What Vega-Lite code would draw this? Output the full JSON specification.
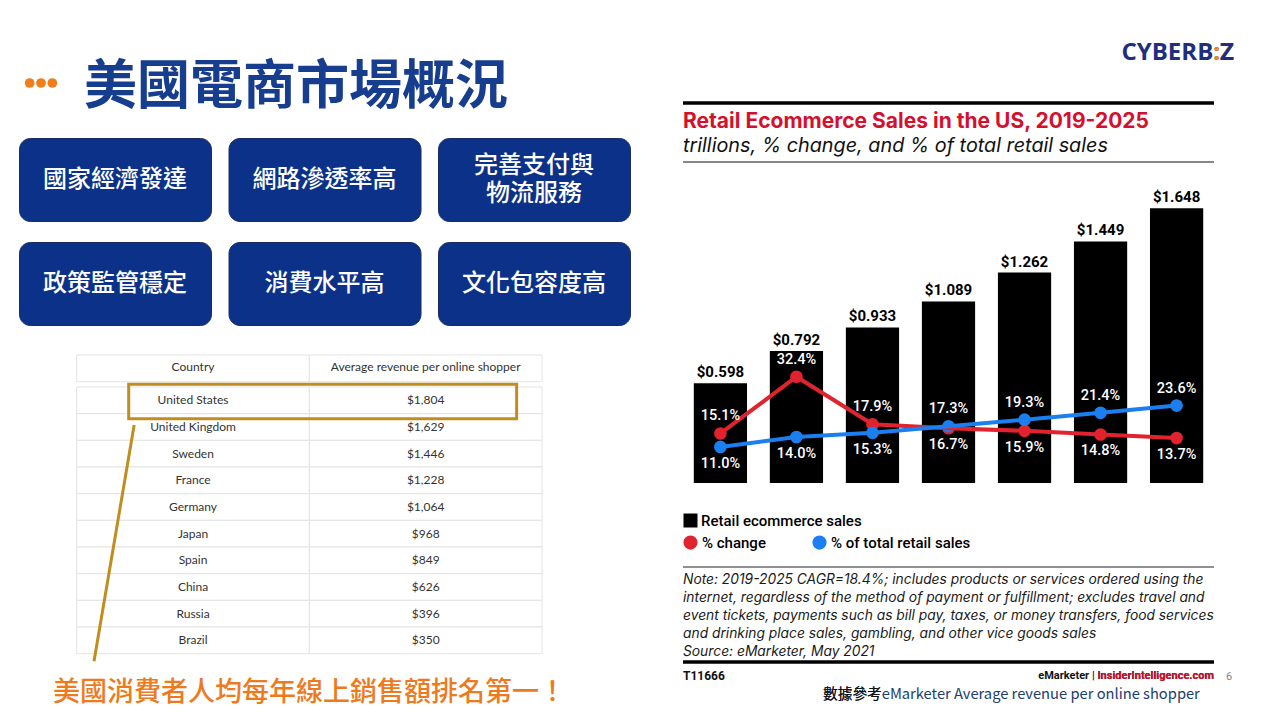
{
  "$schema": "https://vega.github.io/schema/vega-lite/v6.json",
  "background": "white",
  "padding": {"left": 18, "top": 0, "right": 0, "bottom": 0},
  "config": {"font": "Roboto", "view": {"stroke": null}, "axis": {"grid": false}},
  "spacing": 50,
  "hconcat": [
    {
      "spacing": 0,
      "vconcat": [
        {
          "width": 510, "height": 137,
          "layer": [
            {
              "data": {"values": [{"dot": "a"}, {"dot": "b"}, {"dot": "c"}]},
              "mark": {"type": "point", "filled": true, "size": 95, "color": "#f07f1b", "opacity": 1, "yOffset": 14.5},
              "encoding": {"x": {"field": "dot", "type": "nominal", "axis": null, "scale": {"type": "point", "range": [5, 39]}}}
            },
            {
              "data": {"values": [{"t": "美國電商市場概況"}]},
              "mark": {"type": "text", "font": "Noto Sans CJK TC", "fontSize": 53, "fontWeight": "bold", "color": "#163d8e", "dx": 22, "dy": 19, "baseline": "middle"},
              "encoding": {"text": {"field": "t"}}
            }
          ]
        },
        {
          "bounds": "flush", "columns": 3, "spacing": {"row": 21, "column": 17.5},
          "concat": [
            {"width": 192, "height": 83, "view": {"fill": "#0b3288", "stroke": "#1b2c63", "strokeWidth": 1, "cornerRadius": 11},
             "data": {"values": [{"label": "國家經濟發達"}]},
             "mark": {"type": "text", "font": "Noto Sans CJK TC", "fontSize": 24, "fontWeight": 500, "color": "#ffffff", "lineHeight": 28, "baseline": "middle"},
             "encoding": {"text": {"field": "label"}}},
            {"width": 192, "height": 83, "view": {"fill": "#0b3288", "stroke": "#1b2c63", "strokeWidth": 1, "cornerRadius": 11},
             "data": {"values": [{"label": "網路滲透率高"}]},
             "mark": {"type": "text", "font": "Noto Sans CJK TC", "fontSize": 24, "fontWeight": 500, "color": "#ffffff", "lineHeight": 28, "baseline": "middle"},
             "encoding": {"text": {"field": "label"}}},
            {"width": 192, "height": 83, "view": {"fill": "#0b3288", "stroke": "#1b2c63", "strokeWidth": 1, "cornerRadius": 11},
             "data": {"values": [{"label": ["完善支付與", "物流服務"]}]},
             "mark": {"type": "text", "font": "Noto Sans CJK TC", "fontSize": 24, "fontWeight": 500, "color": "#ffffff", "lineHeight": 28, "baseline": "middle", "dy": -14},
             "encoding": {"text": {"field": "label"}}},
            {"width": 192, "height": 83, "view": {"fill": "#0b3288", "stroke": "#1b2c63", "strokeWidth": 1, "cornerRadius": 11},
             "data": {"values": [{"label": "政策監管穩定"}]},
             "mark": {"type": "text", "font": "Noto Sans CJK TC", "fontSize": 24, "fontWeight": 500, "color": "#ffffff", "lineHeight": 28, "baseline": "middle"},
             "encoding": {"text": {"field": "label"}}},
            {"width": 192, "height": 83, "view": {"fill": "#0b3288", "stroke": "#1b2c63", "strokeWidth": 1, "cornerRadius": 11},
             "data": {"values": [{"label": "消費水平高"}]},
             "mark": {"type": "text", "font": "Noto Sans CJK TC", "fontSize": 24, "fontWeight": 500, "color": "#ffffff", "lineHeight": 28, "baseline": "middle"},
             "encoding": {"text": {"field": "label"}}},
            {"width": 192, "height": 83, "view": {"fill": "#0b3288", "stroke": "#1b2c63", "strokeWidth": 1, "cornerRadius": 11},
             "data": {"values": [{"label": "文化包容度高"}]},
             "mark": {"type": "text", "font": "Noto Sans CJK TC", "fontSize": 24, "fontWeight": 500, "color": "#ffffff", "lineHeight": 28, "baseline": "middle"},
             "encoding": {"text": {"field": "label"}}}
          ]
        },
        {
          "width": 600, "height": 337,
          "data": {"values": [
            {"Country": "United States", "revenue": 1804},
            {"Country": "United Kingdom", "revenue": 1629},
            {"Country": "Sweden", "revenue": 1446},
            {"Country": "France", "revenue": 1228},
            {"Country": "Germany", "revenue": 1064},
            {"Country": "Japan", "revenue": 968},
            {"Country": "Spain", "revenue": 849},
            {"Country": "China", "revenue": 626},
            {"Country": "Russia", "revenue": 396},
            {"Country": "Brazil", "revenue": 350}
          ]},
          "encoding": {
            "y": {"field": "Country", "type": "nominal", "axis": null,
                  "scale": {"domain": ["Country", "United States", "United Kingdom", "Sweden", "France", "Germany", "Japan", "Spain", "China", "Russia", "Brazil"],
                            "paddingInner": 0, "paddingOuter": 0.8188, "align": 0.786}}
          },
          "layer": [
            {"mark": {"type": "rect", "fill": "#ffffff", "stroke": "#e3e3e3", "strokeWidth": 1},
             "encoding": {"x": {"datum": "Country", "type": "nominal", "axis": null,
                                "scale": {"domain": ["Country", "Average revenue per online shopper"], "paddingInner": 0, "paddingOuter": 0.2895, "align": 0.4284}}}},
            {"mark": {"type": "rect", "fill": "#ffffff", "stroke": "#e3e3e3", "strokeWidth": 1},
             "encoding": {"x": {"datum": "Average revenue per online shopper", "type": "nominal"}}},
            {"data": {"values": [{"col": "Country"}, {"col": "Average revenue per online shopper"}]},
             "mark": {"type": "rect", "fill": "#ffffff", "stroke": "#e3e3e3", "strokeWidth": 1, "yOffset": -5.3},
             "encoding": {"x": {"field": "col", "type": "nominal"}, "y": {"datum": "Country", "type": "nominal"}}},
            {"data": {"values": [{"col": "Country"}, {"col": "Average revenue per online shopper"}]},
             "mark": {"type": "text", "font": "Lato", "fontSize": 12, "color": "#333333", "dy": -6.5, "baseline": "middle"},
             "encoding": {"x": {"field": "col", "type": "nominal"}, "y": {"datum": "Country", "type": "nominal"}, "text": {"field": "col"}}},
            {"mark": {"type": "text", "font": "Lato", "fontSize": 12, "color": "#333333", "baseline": "middle"},
             "encoding": {"x": {"datum": "Country", "type": "nominal"}, "text": {"field": "Country"}}},
            {"mark": {"type": "text", "font": "Lato", "fontSize": 12, "color": "#333333", "baseline": "middle"},
             "encoding": {"x": {"datum": "Average revenue per online shopper", "type": "nominal"}, "text": {"field": "revenue", "type": "quantitative", "format": "$,"}}},
            {"transform": [{"filter": "datum.Country === 'United States'"}],
             "mark": {"type": "rect", "fillOpacity": 0, "fill": "#ffffff", "stroke": "#bf8e1e", "strokeWidth": 3},
             "encoding": {
               "x": {"datum": "Country", "type": "nominal", "bandPosition": 0.2235},
               "x2": {"datum": "Average revenue per online shopper", "bandPosition": 0.891},
               "y": {"datum": "United States", "type": "nominal", "bandPosition": -0.1},
               "y2": {"datum": "United States", "bandPosition": 1.19}}},
            {"transform": [{"filter": "datum.Country === 'United States'"}],
             "mark": {"type": "rule", "color": "#bf8e1e", "strokeWidth": 3},
             "encoding": {
               "x": {"datum": "Country", "type": "nominal", "bandPosition": 0.247},
               "x2": {"datum": "Country", "bandPosition": 0.0744},
               "y": {"datum": "United Kingdom", "type": "nominal", "bandPosition": 0.425},
               "y2": {"datum": "Brazil", "bandPosition": 1.287}}}
          ]
        },
        {
          "width": 581, "height": 59,
          "data": {"values": [{"t": "美國消費者人均每年線上銷售額排名第一！"}]},
          "mark": {"type": "text", "font": "Noto Sans CJK TC", "fontSize": 27, "fontWeight": 500, "color": "#ed7b1d", "baseline": "middle"},
          "encoding": {"text": {"field": "t"}}
        }
      ]
    },
    {
      "bounds": "flush", "spacing": 0,
      "vconcat": [
        {
          "width": 531, "height": 103,
          "data": {"values": [{"logo": "CYBERB:Z"}]},
          "layer": [
            {"mark": {"type": "text", "align": "right", "baseline": "middle", "font": "Open Sans", "fontSize": 24, "fontWeight": "bold", "color": "#1d2f7e", "dx": 20, "dy": 1},
             "encoding": {"x": {"value": "width"}, "text": {"field": "logo"}}},
            {"mark": {"type": "text", "align": "right", "baseline": "middle", "font": "Open Sans", "fontSize": 24, "fontWeight": "bold", "color": "#f08a1c", "dx": 20, "dy": 1},
             "encoding": {"x": {"value": "width"}, "text": {"value": ":Z"}}},
            {"mark": {"type": "text", "align": "right", "baseline": "middle", "font": "Open Sans", "fontSize": 24, "fontWeight": "bold", "color": "#1d2f7e", "dx": 20, "dy": 1},
             "encoding": {"x": {"value": "width"}, "text": {"value": "Z"}}}
          ]
        },
        {
          "width": 531, "height": 59,
          "data": {"values": [{"title": "Retail Ecommerce Sales in the US, 2019-2025", "subtitle": "trillions, % change, and % of total retail sales"}]},
          "layer": [
            {"mark": {"type": "rule", "color": "#000000", "strokeWidth": 3.5}, "encoding": {"y": {"value": 0}}},
            {"mark": {"type": "rule", "color": "#111111", "strokeWidth": 1.2}, "encoding": {"y": {"value": "height"}}},
            {"mark": {"type": "text", "align": "left", "baseline": "middle", "dy": -11, "font": "Inter", "fontSize": 21, "fontWeight": "bold", "color": "#d3112e"},
             "encoding": {"x": {"value": 0}, "text": {"field": "title"}}},
            {"mark": {"type": "text", "align": "left", "baseline": "middle", "dy": 13, "font": "Inter", "fontSize": 19.8, "fontStyle": "italic", "color": "#111111"},
             "encoding": {"x": {"value": 0}, "text": {"field": "subtitle"}}}
          ]
        },
        {
          "width": 531, "height": 321,
          "data": {"values": [
            {"year": 2019, "sales": 0.598, "% change": 0.151, "% of total retail sales": 0.110},
            {"year": 2020, "sales": 0.792, "% change": 0.324, "% of total retail sales": 0.140},
            {"year": 2021, "sales": 0.933, "% change": 0.179, "% of total retail sales": 0.153},
            {"year": 2022, "sales": 1.089, "% change": 0.167, "% of total retail sales": 0.173},
            {"year": 2023, "sales": 1.262, "% change": 0.159, "% of total retail sales": 0.193},
            {"year": 2024, "sales": 1.449, "% change": 0.148, "% of total retail sales": 0.214},
            {"year": 2025, "sales": 1.648, "% change": 0.137, "% of total retail sales": 0.236}
          ]},
          "resolve": {"scale": {"y": "independent", "color": "independent"}},
          "layer": [
            {
              "encoding": {
                "x": {"field": "year", "type": "ordinal", "scale": {"paddingInner": 0.3, "paddingOuter": 0.142},
                      "axis": {"orient": "bottom", "title": null, "ticks": false, "labelAngle": 0, "labelFontSize": 15, "labelFontWeight": "bold", "labelColor": "#000000", "labelPadding": 4, "domainColor": "#3a3a3a", "domainWidth": 2}},
                "y": {"field": "sales", "type": "quantitative", "scale": {"domain": [0, 1.9256], "nice": false}, "axis": null}
              },
              "layer": [
                {"mark": {"type": "bar"},
                 "encoding": {"color": {"datum": "Retail ecommerce sales", "type": "nominal",
                                        "scale": {"domain": ["Retail ecommerce sales"], "range": ["#000000"]},
                                        "legend": {"orient": "none", "legendX": 0, "legendY": 351, "title": null, "symbolType": "square", "symbolSize": 196, "symbolStrokeWidth": 0, "labelFontSize": 15, "labelFontWeight": 500, "labelColor": "#000000", "labelOffset": 3, "labelLimit": 400, "padding": 0}}}},
                {"mark": {"type": "text", "baseline": "alphabetic", "dy": -6, "fontSize": 15, "fontWeight": "bold", "color": "#000000"},
                 "encoding": {"text": {"field": "sales", "type": "quantitative", "format": "$.3f"}}}
              ]
            },
            {
              "transform": [{"fold": ["% change", "% of total retail sales"], "as": ["series", "pct"]}],
              "encoding": {
                "x": {"field": "year", "type": "ordinal", "axis": null},
                "y": {"field": "pct", "type": "quantitative", "scale": {"domain": [0, 0.9787], "nice": false}, "axis": null},
                "color": {"field": "series", "type": "nominal",
                          "scale": {"domain": ["% change", "% of total retail sales"], "range": ["#e1222f", "#1b7ff0"]},
                          "legend": {"orient": "none", "legendX": 0, "legendY": 373, "direction": "horizontal", "title": null, "symbolType": "circle", "symbolSize": 160, "labelFontSize": 15, "labelFontWeight": 500, "labelColor": "#000000", "labelOffset": 4, "labelLimit": 400, "columnPadding": 44, "padding": 0}}
              },
              "layer": [
                {"mark": {"type": "point", "filled": true, "size": 160, "opacity": 1}},
                {"mark": {"type": "line", "strokeWidth": 4}},
                {"transform": [{"filter": "(datum.series === '% change' && datum.year <= 2021) || (datum.series === '% of total retail sales' && datum.year >= 2022)"}],
                 "mark": {"type": "text", "dy": -17, "fontSize": 14.5, "fontWeight": 500, "baseline": "middle"},
                 "encoding": {"text": {"field": "pct", "type": "quantitative", "format": ".1%"}, "color": {"value": "#ffffff"}}},
                {"transform": [{"filter": "!((datum.series === '% change' && datum.year <= 2021) || (datum.series === '% of total retail sales' && datum.year >= 2022))"}],
                 "mark": {"type": "text", "dy": 17, "fontSize": 14.5, "fontWeight": 500, "baseline": "middle"},
                 "encoding": {"text": {"field": "pct", "type": "quantitative", "format": ".1%"}, "color": {"value": "#ffffff"}}}
              ]
            }
          ]
        },
        {
          "width": 531, "height": 84,
          "data": {"values": [{}]},
          "mark": {"type": "rule", "color": "#222222", "strokeWidth": 1},
          "encoding": {"y": {"value": "height"}}
        },
        {
          "width": 531, "height": 95,
          "data": {"values": [{"note": [
            "Note: 2019-2025 CAGR=18.4%; includes products or services ordered using the",
            "internet, regardless of the method of payment or fulfillment; excludes travel and",
            "event tickets, payments such as bill pay, taxes, or money transfers, food services",
            "and drinking place sales, gambling, and other vice goods sales",
            "Source: eMarketer, May 2021"]}]},
          "layer": [
            {"mark": {"type": "text", "align": "left", "baseline": "top", "dy": 6, "font": "Inter", "fontSize": 13.8, "fontStyle": "italic", "color": "#1a1a1a", "lineHeight": 17.9},
             "encoding": {"x": {"value": 0}, "y": {"value": 0}, "text": {"field": "note"}}},
            {"mark": {"type": "rule", "color": "#000000", "strokeWidth": 3.5}, "encoding": {"y": {"value": "height"}}}
          ]
        },
        {
          "width": 531, "height": 58,
          "data": {"values": [{"code": "T11666", "brand": "eMarketer | InsiderIntelligence.com", "site": "InsiderIntelligence.com", "page": "6",
                               "ref": "數據參考eMarketer Average revenue per online shopper", "refPrefix": "數據參考"}]},
          "layer": [
            {"mark": {"type": "text", "align": "left", "baseline": "middle", "dy": 14, "fontSize": 12, "fontWeight": "bold", "color": "#111111"},
             "encoding": {"x": {"value": 0}, "y": {"value": 0}, "text": {"field": "code"}}},
            {"mark": {"type": "text", "align": "right", "baseline": "middle", "dy": 14, "fontSize": 11, "fontWeight": "bold", "color": "#111111"},
             "encoding": {"x": {"value": "width"}, "y": {"value": 0}, "text": {"field": "brand"}}},
            {"mark": {"type": "text", "align": "right", "baseline": "middle", "dy": 14, "fontSize": 11, "fontWeight": "bold", "color": "#d3112e"},
             "encoding": {"x": {"value": "width"}, "y": {"value": 0}, "text": {"field": "site"}}},
            {"mark": {"type": "text", "align": "center", "baseline": "middle", "dx": 15, "dy": 15, "fontSize": 11, "color": "#7f7f7f"},
             "encoding": {"x": {"value": "width"}, "y": {"value": 0}, "text": {"field": "page"}}},
            {"mark": {"type": "text", "align": "left", "baseline": "middle", "dx": 140, "dy": 33, "font": "Noto Sans CJK TC", "fontSize": 14.7, "color": "#203d6e"},
             "encoding": {"x": {"value": 0}, "y": {"value": 0}, "text": {"field": "ref"}}},
            {"mark": {"type": "text", "align": "left", "baseline": "middle", "dx": 140, "dy": 33, "font": "Noto Sans CJK TC", "fontSize": 14.7, "color": "#111111"},
             "encoding": {"x": {"value": 0}, "y": {"value": 0}, "text": {"field": "refPrefix"}}}
          ]
        }
      ]
    }
  ]
}
